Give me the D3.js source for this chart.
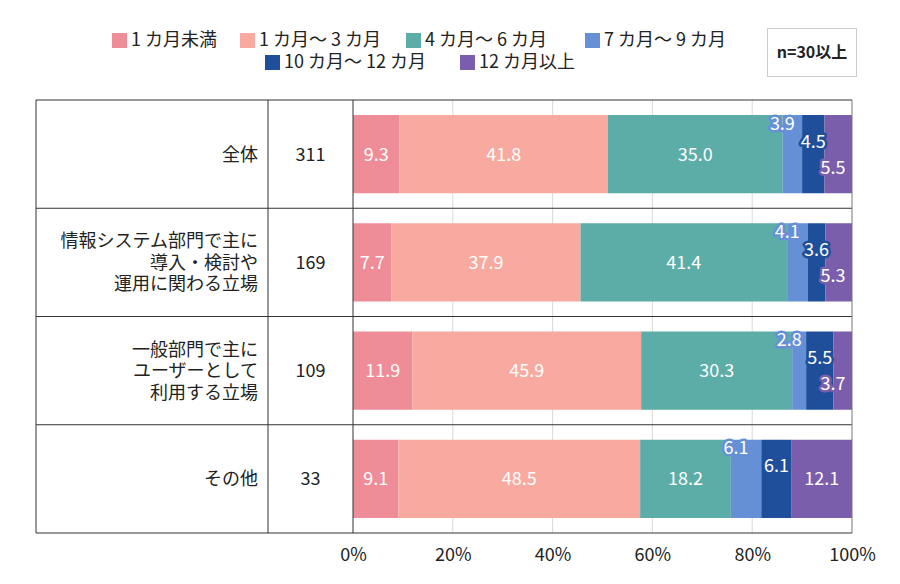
<!DOCTYPE html>
<html>
<head>
<meta charset="utf-8">
<script src="https://cdn.jsdelivr.net/npm/d3@7"></script>
<style>
  body { margin: 0; background: #fff; }
  svg { font-family: "Noto Sans CJK JP", "Noto Sans", sans-serif; }
</style>
</head>
<body>
<div id="chart"></div>
<script>
// categories (row labels, split into lines) and sample sizes
var categories = [
    ["全体"],
    ["情報システム部門で主に", "導入・検討や", "運用に関わる立場"],
    ["一般部門で主に", "ユーザーとして", "利用する立場"],
    ["その他"]
];
var nCounts = [311, 169, 109, 33];

var seriesNames = ["1 カ月未満", "1 カ月〜 3 カ月", "4 カ月〜 6 カ月", "7 カ月〜 9 カ月", "10 カ月〜 12 カ月", "12 カ月以上"];
var colours = ["#ee8c97", "#f8aaa0", "#5cada8", "#6690d6", "#1f4f9b", "#7b5eab"];

// values per series, one per category row
var under1 = [9.3, 7.7, 11.9, 9.1];
var m1to3 = [41.8, 37.9, 45.9, 48.5];
var m4to6 = [35.0, 41.4, 30.3, 18.2];
var m7to9 = [3.9, 4.1, 2.8, 6.1];
var m10to12 = [4.5, 3.6, 5.5, 6.1];
var over12 = [5.5, 5.3, 3.7, 12.1];

var tickValues = [0, 20, 40, 60, 80, 100];
var nNote = "n=30以上";

var seriesValues = [under1, m1to3, m4to6, m7to9, m10to12, over12];

var width = 900, height = 584;
var tableLeft = 36, nLeft = 268, plotLeft = 353, plotRight = 852;
var plotTop = 100, plotBottom = 533;
var fontSize = 18;

var svg = d3.select("#chart").append("svg")
    .attr("width", width)
    .attr("height", height);

var x = d3.scaleLinear().domain([0, 100]).range([plotLeft, plotRight]);
var y = d3.scaleBand().domain(d3.range(categories.length)).range([plotTop, plotBottom]);
var barPad = 15;

// gridlines
svg.append("g").selectAll("line")
    .data(tickValues.filter(function (d) { return d > 0 && d < 100; }))
    .enter().append("line")
    .attr("x1", x).attr("x2", x)
    .attr("y1", plotTop).attr("y2", plotBottom)
    .attr("stroke", "#d9d9d9")
    .attr("stroke-width", 1);

// stacked rows
var rows = categories.map(function (c, i) {
    var vals = seriesValues.map(function (s) { return s[i]; });
    var total = d3.sum(vals);
    var acc = 0;
    return vals.map(function (v, k) {
        var seg = { row: i, k: k, value: v, x0: acc / total * 100 };
        acc += v;
        seg.x1 = acc / total * 100;
        return seg;
    });
});
var segs = d3.merge(rows);

svg.append("g").selectAll("rect")
    .data(segs)
    .enter().append("rect")
    .attr("x", function (d) { return x(d.x0); })
    .attr("width", function (d) { return x(d.x1) - x(d.x0); })
    .attr("y", function (d) { return y(d.row) + barPad; })
    .attr("height", y.bandwidth() - 2 * barPad)
    .attr("fill", function (d) { return colours[d.k]; });

// value labels; narrow segments get a halo label moved up/down
var small = 7;
function labelX(d) {
    var cx = (x(d.x0) + x(d.x1)) / 2;
    if (d.value >= small) return cx;
    if (d.k === 3) return cx - 10;
    if (d.k === 5) return Math.min(cx, plotRight - 19);
    return cx;
}
function labelY(d) {
    var cy = y(d.row) + y.bandwidth() / 2;
    if (d.value >= small) return cy;
    if (d.k === 3) return cy - 31;
    if (d.k === 4) return cy - 13;
    return cy + 13;
}

svg.append("g")
    .attr("text-anchor", "middle")
    .attr("font-size", fontSize)
    .selectAll("text")
    .data(segs)
    .enter().append("text")
    .attr("x", labelX)
    .attr("y", labelY)
    .attr("dy", "0.36em")
    .attr("fill", "#fff")
    .attr("stroke", function (d) { return d.value < small ? colours[d.k] : "none"; })
    .attr("stroke-width", 5)
    .attr("stroke-linejoin", "round")
    .attr("paint-order", "stroke")
    .text(function (d) { return d.value.toFixed(1); });

// table lines
var lines = svg.append("g");
y.domain().forEach(function (i) {
    lines.append("line")
        .attr("x1", tableLeft).attr("x2", plotRight)
        .attr("y1", y(i)).attr("y2", y(i))
        .attr("stroke", "#333");
});
lines.append("line")
    .attr("x1", tableLeft).attr("x2", plotRight)
    .attr("y1", plotBottom).attr("y2", plotBottom)
    .attr("stroke", "#333");
[tableLeft, nLeft, plotLeft].forEach(function (xx) {
    lines.append("line")
        .attr("x1", xx).attr("x2", xx)
        .attr("y1", plotTop).attr("y2", plotBottom)
        .attr("stroke", "#333");
});
lines.append("line")
    .attr("x1", plotRight).attr("x2", plotRight)
    .attr("y1", plotTop).attr("y2", plotBottom)
    .attr("stroke", "#777");

// category labels
var catG = svg.append("g")
    .attr("font-size", fontSize)
    .attr("fill", "#222");
categories.forEach(function (c, i) {
    var cy = y(i) + y.bandwidth() / 2;
    var lh = 21.5;
    var t = catG.append("text")
        .attr("text-anchor", "end");
    c.forEach(function (line, j) {
        t.append("tspan")
            .attr("x", nLeft - 10)
            .attr("y", cy + (j - (c.length - 1) / 2) * lh)
            .attr("dy", "0.36em")
            .text(line);
    });
    catG.append("text")
        .attr("text-anchor", "middle")
        .attr("x", (nLeft + plotLeft) / 2)
        .attr("y", cy)
        .attr("dy", "0.36em")
        .text(nCounts[i]);
});

// x axis
var xAxis = svg.append("g")
    .attr("transform", "translate(0," + plotBottom + ")")
    .call(d3.axisBottom(x)
        .tickValues(tickValues)
        .tickSize(0)
        .tickPadding(15)
        .tickFormat(function (d) { return d + "%"; }));
xAxis.select(".domain").remove();
xAxis.selectAll("text")
    .attr("font-size", fontSize)
    .attr("font-family", "\"Noto Sans CJK JP\", sans-serif")
    .attr("fill", "#222");

// legend
var legendPos = [[112, 40], [240, 40], [406, 40], [585, 40], [265, 62], [460, 62]];
var legend = svg.append("g")
    .attr("font-size", fontSize)
    .attr("fill", "#222");
seriesNames.forEach(function (name, k) {
    var p = legendPos[k];
    legend.append("rect")
        .attr("x", p[0]).attr("y", p[1] - 7)
        .attr("width", 15).attr("height", 15)
        .attr("fill", colours[k]);
    legend.append("text")
        .attr("x", p[0] + 19).attr("y", p[1])
        .attr("dy", "0.36em")
        .text(name);
});

// n note box
svg.append("rect")
    .attr("x", 767.5).attr("y", 28.5)
    .attr("width", 89).attr("height", 48)
    .attr("fill", "#fff")
    .attr("stroke", "#ccc");
svg.append("text")
    .attr("x", 812).attr("y", 52)
    .attr("dy", "0.36em")
    .attr("text-anchor", "middle")
    .attr("font-size", 16)
    .attr("font-weight", "bold")
    .attr("fill", "#222")
    .text(nNote);
</script>
</body>
</html>
